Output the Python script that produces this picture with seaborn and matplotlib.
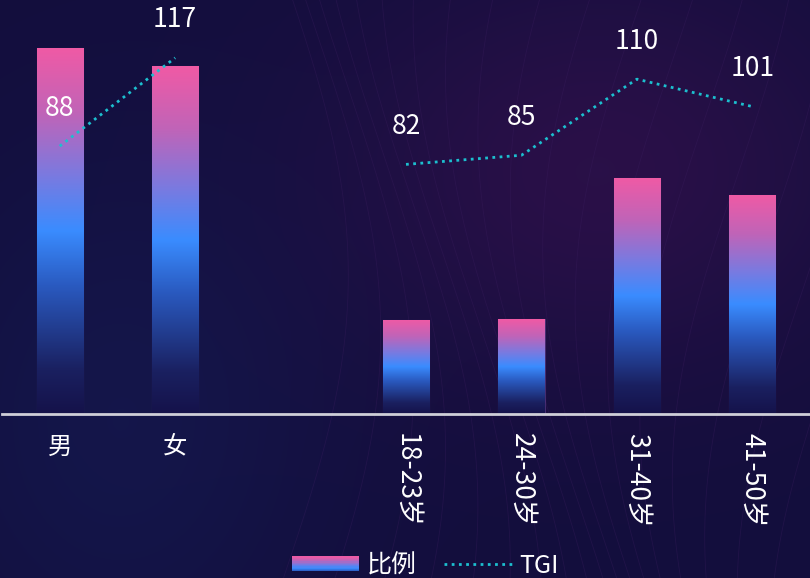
import numpy as np
import pandas as pd
import matplotlib
matplotlib.use('Agg')
import matplotlib.pyplot as plt
import seaborn as sns
from matplotlib.colors import LinearSegmentedColormap
from matplotlib.lines import Line2D
from matplotlib.patches import Rectangle
from matplotlib.legend_handler import HandlerBase

# data
categories = ['男', '女', '', '18-23岁', '24-30岁', '31-40岁', '41-50岁']
bar_cats = ['男', '女', '18-23岁', '24-30岁', '31-40岁', '41-50岁']
ratio = [51.3, 48.7, 13.2, 13.3, 33.1, 30.7]
tgi = [88, 117, 82, 85, 110, 101]
groups = ['gender', 'gender', 'age', 'age', 'age', 'age']

bg = '#130e3d'
cyan = '#1cbfcf'
grad_colors = [(0.0, '#15124a'), (0.12, '#1a2060'), (0.35, '#2a5ac0'),
               (0.50, '#3a8cff'), (0.65, '#7a7ae0'), (0.82, '#c064b8'), (1.0, '#f05aa5')]
cmap = LinearSegmentedColormap.from_list('bar_grad', grad_colors)

sns.set_theme(style='white')
plt.rcParams['font.family'] = ['Noto Sans CJK SC', 'DejaVu Sans']

fig = plt.figure(figsize=(8.1, 5.78), dpi=100)
fig.patch.set_facecolor(bg)

# background glow
bg_ax = fig.add_axes([0, 0, 1, 1], zorder=-10)
yy, xx = np.mgrid[0:578, 0:810]
glow = np.exp(-(((xx - 600) / 260.0) ** 2 + ((yy - 170) / 200.0) ** 2))
glow2 = np.exp(-(((xx - 120) / 200.0) ** 2 + ((yy - 420) / 260.0) ** 2))
base = np.array([0x13, 0x0e, 0x3d]) / 255.0
pink = np.array([0x2a, 0x10, 0x48]) / 255.0
blue = np.array([0x14, 0x16, 0x4a]) / 255.0
img = base + glow[..., None] * (pink - base) + glow2[..., None] * (blue - base)
bg_ax.imshow(np.clip(img, 0, 1), aspect='auto', extent=[0, 1, 0, 1])
t = np.linspace(0, 1, 300)
for k in range(30):
    xs = 0.35 + 0.04 * k + 0.08 * np.sin(3 * t + k * 0.3)
    bg_ax.plot(xs, t, color='#3a1d5e', lw=0.6, alpha=0.35)
bg_ax.set_xlim(0, 1)
bg_ax.set_ylim(0, 1)
bg_ax.axis('off')

ax = fig.add_axes([2 / 810, 164 / 578, 808 / 810, 414 / 578])
ax.set_facecolor('none')

df = pd.DataFrame({'cat': bar_cats, 'ratio': ratio})
sns.barplot(data=df, x='cat', y='ratio', order=categories, width=0.4,
            color='#3a8cff', ax=ax)

grad = np.linspace(0, 1, 256)[:, None]
for p in ax.patches:
    x0, y0 = p.get_x(), p.get_y()
    w, h = p.get_width(), p.get_height()
    if not np.isfinite(h) or h == 0:
        continue
    p.set_facecolor('none')
    p.set_edgecolor((0.6, 0.4, 0.8, 0.35))
    p.set_linewidth(0.8)
    im = ax.imshow(grad, cmap=cmap, aspect='auto', origin='lower',
                   extent=[x0, x0 + w, y0, y0 + h], zorder=1)
    im.set_clip_path(p)

ax.set_xlim(-0.5, len(categories) - 0.5)
ax.set_ylim(0, 58)
ax.set_xlabel('')
ax.set_ylabel('')
ax.set_yticks([])
for s in ['top', 'left', 'right']:
    ax.spines[s].set_visible(False)
ax.spines['bottom'].set_color('#cfcfd8')
ax.spines['bottom'].set_linewidth(2)
ax.tick_params(axis='x', length=0, pad=14, colors='white', labelsize=17.5)
for lbl in ax.get_xticklabels():
    if lbl.get_text().endswith('岁'):
        lbl.set_rotation(270)
        lbl.set_va('top')
        lbl.set_fontsize(19)

# TGI line
ax2 = ax.twinx()
pos = [categories.index(c) for c in bar_cats]
line_df = pd.DataFrame({'pos': pos, 'tgi': tgi, 'group': groups})
sns.lineplot(data=line_df, x='pos', y='tgi', units='group', estimator=None,
             color=cyan, lw=2, linestyle=(0, (1, 1.6)), ax=ax2, legend=False)
for xp, v in zip(pos, tgi):
    ax2.annotate(str(v), (xp, v), xytext=(0, 38), textcoords='offset pixels',
                 ha='center', va='center', color='white', fontsize=19)
ax2.set_ylim(0, 136)
ax2.set_xlim(-0.5, len(categories) - 0.5)
ax2.set_yticks([])
ax2.set_xlabel('')
ax2.set_ylabel('')
for s in ['top', 'left', 'right', 'bottom']:
    ax2.spines[s].set_visible(False)


class GradientHandler(HandlerBase):
    def create_artists(self, legend, orig_handle, xdescent, ydescent,
                       width, height, fontsize, trans):
        n = 12
        arts = []
        for i in range(n):
            r = Rectangle((-xdescent, -ydescent + height * i / n), width, height / n + 0.3,
                          facecolor=cmap(0.35 + 0.65 * (i + 0.5) / n), edgecolor='none',
                          transform=trans)
            arts.append(r)
        return arts


bar_handle = Rectangle((0, 0), 1, 1)
line_handle = Line2D([], [], color=cyan, lw=2, linestyle=(0, (1, 1.6)))
fig.legend([bar_handle, line_handle], ['比例', 'TGI'],
           handler_map={Rectangle: GradientHandler()},
           loc='lower center', bbox_to_anchor=(0.525, -0.04), ncol=2, frameon=False,
           fontsize=18, labelcolor='white', handlelength=2.7, handleheight=0.55,
           handletextpad=0.3, columnspacing=1.1)

fig.savefig('out.png', dpi=100, facecolor=bg)
